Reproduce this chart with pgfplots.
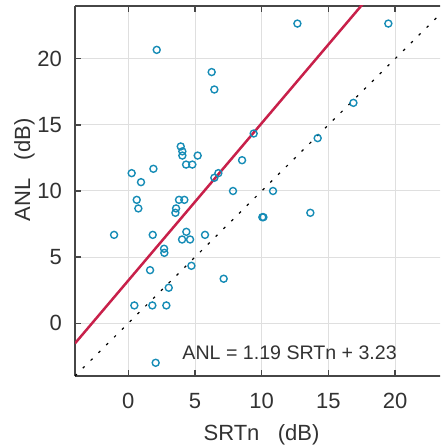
\documentclass[border=0pt]{standalone}
\usepackage{pgfplots}
\pgfplotsset{compat=1.18}
\usepackage{fontspec}
\setmainfont{Liberation Sans}
\definecolor{ptblue}{RGB}{22,140,182}
\definecolor{fitred}{RGB}{200,32,74}
\definecolor{axgray}{RGB}{70,70,70}
\definecolor{txtgray}{RGB}{50,50,50}

\begin{document}
\begin{tikzpicture}[x=0.5pt,y=0.5pt]
\path[use as bounding box] (-75,-72) rectangle (365,376);
\clip (-75,-72) rectangle (365,376);
\begin{axis}[
  at={(0,0)}, anchor=south west,
  scale only axis,
  width=186.67pt, height=185pt,
  xmin=-4, xmax=24, ymin=-4, ymax=24,
  axis x line*=box, axis y line*=left,
  axis line style={axgray, line width=0.7pt},
  xtick={0,5,10,15,20}, ytick={0,5,10,15,20},
  tick align=inside, major tick length=3pt,
  tick style={axgray, line width=0.6pt},
  grid=major,
  major grid style={gray!25, line width=0.5pt},
  tick label style={font=\fontsize{11}{13}\selectfont, text=txtgray},
  /pgf/number format/assume math mode=true,
  xticklabel style={yshift=-5pt},
  yticklabel style={xshift=-3pt},
  clip=true,
]
\addplot[only marks, mark=o, mark size=1.75pt, ptblue, line width=0.7pt] coordinates {
  (12.68,22.67) (19.5,22.67) (2.13,20.68) (6.25,19.0) (6.45,17.68)
  (16.88,16.67) (9.4,14.35) (14.2,14.0) (3.93,13.37) (4.05,13.0)
  (4.05,12.68) (5.2,12.68) (4.33,12.0) (4.8,12.0) (8.53,12.33)
  (0.25,11.35) (1.88,11.68) (0.95,10.67) (6.45,11.0) (6.75,11.35)
  (7.85,10.0) (10.85,10.0) (0.63,9.33) (0.75,8.68) (3.8,9.33)
  (4.2,9.33) (3.58,8.68) (3.53,8.35) (10.05,8.02) (10.13,8.02)
  (13.65,8.35) (-1.07,6.68) (1.83,6.68) (4.35,6.91) (4.03,6.33)
  (4.63,6.33) (5.75,6.68) (2.68,5.63) (2.7,5.32) (4.73,4.34)
  (7.15,3.36) (1.63,4.01) (3.03,2.68) (0.45,1.34) (1.8,1.34)
  (2.85,1.34) (2.05,-3.0)
};
\addplot[fitred, line width=1.25pt] coordinates {(-4,-1.53) (24,31.79)};
\addplot[black, line width=0.6pt, dash pattern=on 1.3pt off 4.2pt] coordinates {(-4,-4) (24,24)};
\node[anchor=base west, inner sep=0pt, font=\fontsize{9.8}{12}\selectfont, text=txtgray] at (axis cs:4.03,-2.75) {ANL = 1.19 SRTn + 3.23};
\end{axis}
\node[anchor=base, font=\fontsize{11}{13}\selectfont, text=txtgray] at (186.5,-64) {SRTn\ \ \ (dB)};
\node[anchor=base, rotate=90, font=\fontsize{11}{13}\selectfont, text=txtgray] at (-45,206) {ANL\ \ \ (dB)};
\end{tikzpicture}
\end{document}
